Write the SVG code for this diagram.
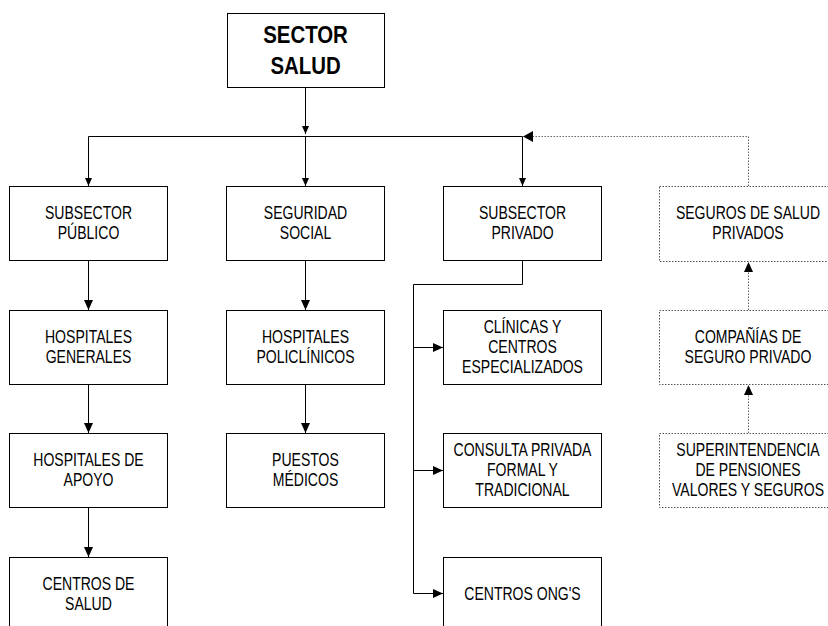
<svg xmlns="http://www.w3.org/2000/svg" width="828" height="626" viewBox="0 0 828 626">
  <defs>
    <style>
      .box { fill: #ffffff; stroke: #000000; stroke-width: 1; }
      .dbox { fill: #ffffff; stroke: #555555; stroke-width: 1; stroke-dasharray: 1.5 1.5; }
      .lbl { font-family: "Liberation Sans", Arial, sans-serif; font-size: 18px; fill: #000000; text-anchor: middle; }
      .title { font-family: "Liberation Sans", Arial, sans-serif; font-size: 24px; font-weight: bold; fill: #000000; text-anchor: middle; }
      .ln { fill: none; stroke: #000000; stroke-width: 1; }
      .dln { fill: none; stroke: #666666; stroke-width: 1; stroke-dasharray: 1.5 1.5; }
    </style>
    <marker id="arrowBig" markerUnits="userSpaceOnUse" markerWidth="10" markerHeight="10" refX="10" refY="5" orient="auto">
      <path d="M0,0.5 L10,5 L0,9.5 z" fill="#000000"/>
    </marker>
    <marker id="arrowWide" markerUnits="userSpaceOnUse" markerWidth="10" markerHeight="12" refX="10" refY="6" orient="auto">
      <path d="M0,0.5 L10,6 L0,11.5 z" fill="#000000"/>
    </marker>
    <marker id="arrowSmall" markerUnits="userSpaceOnUse" markerWidth="8" markerHeight="8" refX="8" refY="4" orient="auto">
      <path d="M0,0.5 L8,4 L0,7.5 z" fill="#000000"/>
    </marker>
  </defs>

  <rect width="828" height="626" fill="#ffffff"/>

  <!-- connectors -->
  <g id="connectors">
    <path class="ln" d="M305.5 87 V134" marker-end="url(#arrowSmall)"/>
    <path class="ln" d="M88.5 136.5 H522.5"/>
    <path class="ln" d="M88.5 136.5 V186" marker-end="url(#arrowSmall)"/>
    <path class="ln" d="M305.5 136.5 V186" marker-end="url(#arrowSmall)"/>
    <path class="ln" d="M522.5 136.5 V186" marker-end="url(#arrowSmall)"/>

    <path class="ln" d="M88.5 260 V310" marker-end="url(#arrowBig)"/>
    <path class="ln" d="M88.5 384 V433" marker-end="url(#arrowBig)"/>
    <path class="ln" d="M88.5 507 V557" marker-end="url(#arrowBig)"/>

    <path class="ln" d="M305.5 260 V310" marker-end="url(#arrowBig)"/>
    <path class="ln" d="M305.5 384 V433" marker-end="url(#arrowBig)"/>

    <path class="ln" d="M522.5 260 V284.5 H413.5 V593.5 H443" marker-end="url(#arrowBig)"/>
    <path class="ln" d="M413.5 347.5 H443" marker-end="url(#arrowBig)"/>
    <path class="ln" d="M413.5 470.5 H443" marker-end="url(#arrowBig)"/>

    <path class="dln" d="M748.5 186 V136.5 H523" marker-end="url(#arrowWide)"/>
    <path class="dln" d="M748.5 310 V262" marker-end="url(#arrowBig)"/>
    <path class="dln" d="M748.5 433 V385" marker-end="url(#arrowBig)"/>
  </g>

  <!-- root -->
  <g id="sector-salud">
    <rect class="box" x="227.5" y="13.5" width="157" height="74"/>
    <text class="title" transform="translate(305.5 0) scale(0.85 1)"><tspan x="0" y="43">SECTOR</tspan><tspan x="0" y="74">SALUD</tspan></text>
  </g>

  <!-- public subsector -->
  <g id="subsector-publico">
    <rect class="box" x="9.5" y="186.5" width="158" height="74"/>
    <text class="lbl" transform="translate(88.5 0) scale(0.78 1)"><tspan x="0" y="219">SUBSECTOR</tspan><tspan x="0" y="239">PÚBLICO</tspan></text>
  </g>
  <g id="hospitales-generales">
    <rect class="box" x="9.5" y="310.5" width="158" height="74"/>
    <text class="lbl" transform="translate(88.5 0) scale(0.78 1)"><tspan x="0" y="343">HOSPITALES</tspan><tspan x="0" y="363">GENERALES</tspan></text>
  </g>
  <g id="hospitales-apoyo">
    <rect class="box" x="9.5" y="433.5" width="158" height="74"/>
    <text class="lbl" transform="translate(88.5 0) scale(0.78 1)"><tspan x="0" y="466">HOSPITALES DE</tspan><tspan x="0" y="486">APOYO</tspan></text>
  </g>
  <g id="centros-salud">
    <rect class="box" x="9.5" y="557.5" width="158" height="74"/>
    <text class="lbl" transform="translate(88.5 0) scale(0.78 1)"><tspan x="0" y="590">CENTROS DE</tspan><tspan x="0" y="610">SALUD</tspan></text>
  </g>

  <!-- social security -->
  <g id="seguridad-social">
    <rect class="box" x="226.5" y="186.5" width="158" height="74"/>
    <text class="lbl" transform="translate(305.5 0) scale(0.78 1)"><tspan x="0" y="219">SEGURIDAD</tspan><tspan x="0" y="239">SOCIAL</tspan></text>
  </g>
  <g id="hospitales-policlinicos">
    <rect class="box" x="226.5" y="310.5" width="158" height="74"/>
    <text class="lbl" transform="translate(305.5 0) scale(0.78 1)"><tspan x="0" y="343">HOSPITALES</tspan><tspan x="0" y="363">POLICLÍNICOS</tspan></text>
  </g>
  <g id="puestos-medicos">
    <rect class="box" x="226.5" y="433.5" width="158" height="74"/>
    <text class="lbl" transform="translate(305.5 0) scale(0.78 1)"><tspan x="0" y="466">PUESTOS</tspan><tspan x="0" y="486">MÉDICOS</tspan></text>
  </g>

  <!-- private subsector -->
  <g id="subsector-privado">
    <rect class="box" x="443.5" y="186.5" width="158" height="74"/>
    <text class="lbl" transform="translate(522.5 0) scale(0.78 1)"><tspan x="0" y="219">SUBSECTOR</tspan><tspan x="0" y="239">PRIVADO</tspan></text>
  </g>
  <g id="clinicas">
    <rect class="box" x="443.5" y="310.5" width="158" height="74"/>
    <text class="lbl" transform="translate(522.5 0) scale(0.78 1)"><tspan x="0" y="333">CLÍNICAS Y</tspan><tspan x="0" y="353">CENTROS</tspan><tspan x="0" y="373">ESPECIALIZADOS</tspan></text>
  </g>
  <g id="consulta-privada">
    <rect class="box" x="443.5" y="433.5" width="158" height="74"/>
    <text class="lbl" transform="translate(522.5 0) scale(0.78 1)"><tspan x="0" y="456">CONSULTA PRIVADA</tspan><tspan x="0" y="476">FORMAL Y</tspan><tspan x="0" y="496">TRADICIONAL</tspan></text>
  </g>
  <g id="centros-ong">
    <rect class="box" x="443.5" y="557.5" width="158" height="74"/>
    <text class="lbl" transform="translate(522.5 0) scale(0.78 1)"><tspan x="0" y="600">CENTROS ONG'S</tspan></text>
  </g>

  <!-- private insurance chain -->
  <g id="seguros-privados">
    <rect class="dbox" x="659.5" y="186.5" width="178" height="75"/>
    <text class="lbl" transform="translate(748 0) scale(0.78 1)"><tspan x="0" y="219">SEGUROS DE SALUD</tspan><tspan x="0" y="239">PRIVADOS</tspan></text>
  </g>
  <g id="companias-seguro">
    <rect class="dbox" x="659.5" y="310.5" width="178" height="74"/>
    <text class="lbl" transform="translate(748 0) scale(0.78 1)"><tspan x="0" y="343">COMPAÑÍAS DE</tspan><tspan x="0" y="363">SEGURO PRIVADO</tspan></text>
  </g>
  <g id="superintendencia">
    <rect class="dbox" x="659.5" y="433.5" width="178" height="74"/>
    <text class="lbl" transform="translate(748 0) scale(0.78 1)"><tspan x="0" y="456">SUPERINTENDENCIA</tspan><tspan x="0" y="476">DE PENSIONES</tspan><tspan x="0" y="496">VALORES Y SEGUROS</tspan></text>
  </g>
</svg>
